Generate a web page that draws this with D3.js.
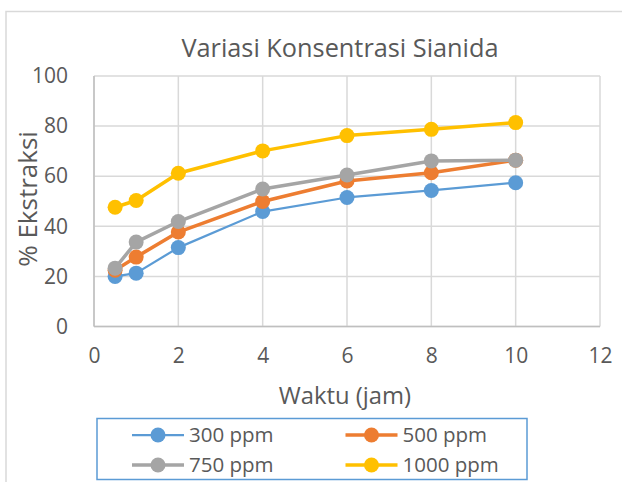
<!DOCTYPE html>
<html>
<head>
<meta charset="utf-8">
<script src="https://cdn.jsdelivr.net/npm/d3@7"></script>
<style>
  body { margin: 0; background: #fff; }
  text { font-family: "Open Sans", sans-serif; fill: #595959; }
</style>
</head>
<body>
<svg id="chart" width="622" height="482"></svg>
<script>
// data
let waktu = [0.5, 1, 2, 4, 6, 8, 10];
let ppm300 = [20, 21.3, 31.5, 45.9, 51.5, 54.3, 57.4];
let ppm500 = [22.5, 27.7, 37.7, 49.9, 58.1, 61.4, 66.4];
let ppm750 = [23.3, 33.7, 41.9, 54.9, 60.5, 66.1, 66.4];
let ppm1000 = [47.6, 50.3, 61.2, 70.1, 76.2, 78.7, 81.4];
let seriesNames = ["300 ppm", "500 ppm", "750 ppm", "1000 ppm"];
let seriesColors = ["#5b9bd5", "#ed7d31", "#a5a5a5", "#ffc000"];
let xTicks = [0, 2, 4, 6, 8, 10, 12];
let yTicks = [0, 20, 40, 60, 80, 100];

let allSeries = [ppm300, ppm500, ppm750, ppm1000];

svg = d3.select("#chart");

// outer chart frame
svg.append("path")
    .attr("d", "M6,482V11.5H622")
    .style("fill", "none")
    .style("stroke", "#d9d9d9")
    .style("stroke-width", 1.5);

let x = d3.scaleLinear().domain([0, 12]).range([94, 600]);
let y = d3.scaleLinear().domain([0, 100]).range([326.5, 76]);

let grid = svg.append("g");
grid.selectAll(".vg")
    .data(xTicks).enter()
    .append("line")
    .attr("x1", d => x(d)).attr("x2", d => x(d))
    .attr("y1", y(0)).attr("y2", y(100))
    .style("stroke", "#d9d9d9").style("stroke-width", 1.5);
grid.selectAll(".hg")
    .data(yTicks).enter()
    .append("line")
    .attr("x1", x(0)).attr("x2", x(12))
    .attr("y1", d => y(d)).attr("y2", d => y(d))
    .style("stroke", "#d9d9d9").style("stroke-width", 1.5);

// axes lines
svg.append("line")
    .attr("x1", x(0)).attr("x2", x(0)).attr("y1", y(0)).attr("y2", y(100))
    .style("stroke", "#bfbfbf").style("stroke-width", 1.5);
svg.append("line")
    .attr("x1", x(0)).attr("x2", x(12)).attr("y1", y(0)).attr("y2", y(0))
    .style("stroke", "#bfbfbf").style("stroke-width", 1.5);

let xAxis = d3.axisBottom(x).tickValues(xTicks).tickSize(0).tickPadding(22);
svg.append("g")
    .attr("transform", "translate(0," + y(0) + ")")
    .call(xAxis)
    .call(g => g.select(".domain").remove())
    .selectAll("text")
    .style("font-size", "21px").style("font-family", "Open Sans").attr("fill", "#595959");

let yAxis = d3.axisLeft(y).tickValues(yTicks).tickSize(0).tickPadding(26);
svg.append("g")
    .attr("transform", "translate(" + x(0) + ",0)")
    .call(yAxis)
    .call(g => g.select(".domain").remove())
    .selectAll("text")
    .style("font-size", "21px").style("font-family", "Open Sans").attr("fill", "#595959");

// series
let line = d3.line()
    .x((d, i) => x(waktu[i]))
    .y(d => y(d));
let widths = [2.25, 3.5, 3.5, 3.5];

allSeries.forEach(function(s, k) {
    let g = svg.append("g");
    g.append("path")
        .attr("d", line(s))
        .style("fill", "none")
        .style("stroke", seriesColors[k])
        .style("stroke-width", widths[k])
        .style("stroke-linejoin", "round");
    g.selectAll("circle")
        .data(s).enter()
        .append("circle")
        .attr("cx", (d, i) => x(waktu[i]))
        .attr("cy", d => y(d))
        .attr("r", 7.5)
        .style("fill", seriesColors[k]);
});

// titles
svg.append("text")
    .attr("x", 340).attr("y", 57)
    .attr("text-anchor", "middle")
    .style("font-size", "25.3px")
    .text("Variasi Konsentrasi Sianida");

svg.append("text")
    .attr("x", 345).attr("y", 404)
    .attr("text-anchor", "middle")
    .style("font-size", "23.8px")
    .text("Waktu (jam)");

svg.append("text")
    .attr("transform", "translate(37,199) rotate(-90)")
    .attr("text-anchor", "middle")
    .style("font-size", "26px")
    .text("% Ekstraksi");

// legend
let legend = svg.append("g");
legend.append("rect")
    .attr("x", 97).attr("y", 418.5)
    .attr("width", 430).attr("height", 61)
    .style("fill", "#fff")
    .style("stroke", "#5b9bd5")
    .style("stroke-width", 1.5);

let legX = [132, 345.5];
let legY = [435, 465];
seriesNames.forEach(function(name, k) {
    let lx = legX[k % 2], ly = legY[Math.floor(k / 2)];
    let item = legend.append("g");
    item.append("line")
        .attr("x1", lx).attr("x2", lx + 52)
        .attr("y1", ly).attr("y2", ly)
        .style("stroke", seriesColors[k])
        .style("stroke-width", widths[k]);
    item.append("circle")
        .attr("cx", lx + 26).attr("cy", ly).attr("r", 7.5)
        .style("fill", seriesColors[k]);
    item.append("text")
        .attr("x", lx + 57).attr("y", ly + 7)
        .style("font-size", "20.5px")
        .text(name);
});
</script>
</body>
</html>
